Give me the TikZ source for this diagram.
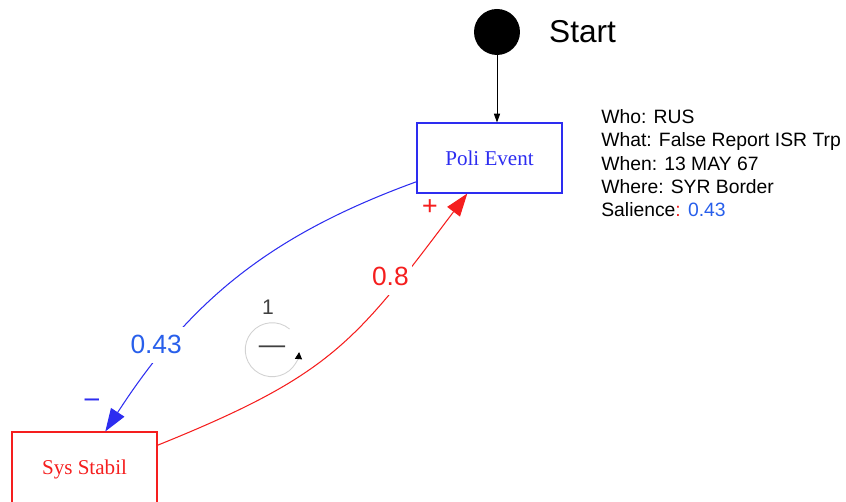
\documentclass[tikz,border=0pt]{standalone}
\usepackage{fontspec}
\setmainfont{Liberation Sans}
\newfontfamily\boxfont{Liberation Serif}
\usetikzlibrary{arrows.meta}
\definecolor{polblue}{RGB}{45,45,240}
\definecolor{stabred}{RGB}{245,30,30}
\definecolor{wtblue}{RGB}{40,95,235}
\begin{document}
\begin{tikzpicture}[x=0.02cm,y=0.02cm,
factor/.style={rectangle,draw,line width=0.6pt,minimum width=2.9cm,minimum height=1.4cm,font=\boxfont\fontsize{12}{14}\selectfont},
weight/.style={fill=white,inner xsep=2pt,inner ysep=5pt,font=\fontsize{15}{17}\selectfont},
sign/.style={inner sep=0,font=\boxfont\bfseries\fontsize{16}{16}\selectfont},
link/.style={line width=0.6pt,-{Triangle[length=13pt,width=9pt]}},
]
\useasboundingbox(0,0)rectangle(846,502);

%start
\node[circle,fill=black,minimum size=0.92cm,inner sep=0](start)at(497,470){};
\node[anchor=west,font=\fontsize{18}{20}\selectfont](startlbl)at(543,470){Start};

%factors
\node[factor,draw=polblue,text=polblue](poli)at(489.5,344){Poli Event};
\node[factor,draw=stabred,text=stabred,minimum height=1.48cm](sys)at(84.5,33){Sys Stabil};

%event info
\node[anchor=north west,align=left,inner sep=0,font=\fontsize{11}{13.3}\selectfont](info)at(601,393){Who: RUS\\What: False Report ISR Trp\\When: 13 MAY 67\\Where: SYR Border\\Salience{\color{stabred}:} {\color{wtblue}0.43}};

%links
\draw[-{Triangle[length=5pt,width=3.5pt]},line width=0.5pt](start)--(start|-poli.north);
\draw[link,polblue](poli.198)to[out=200,in=57]node[weight,text=wtblue,pos=0.75,xshift=-0.26cm](w1){0.43}(sys.61);
\draw[link,stabred](sys.18)to[out=22,in=233,looseness=1.2]node[weight,pos=0.78,xshift=-0.26cm](w2){0.8}(poli.238);

%signs
\node[sign,polblue](minus)at(92,99){\textendash};
\node[sign,stabred](plus)at(430,294){+};

%loop
\node[circle,minimum size=1.08cm,inner sep=0,text=darkgray,font=\fontsize{15}{15}\selectfont](loop)at(272,152){---};
\draw[gray!35,line width=0.5pt,-{Triangle[length=4pt,width=4pt,color=black]}](loop.50)arc[start angle=50,end angle=355,radius=0.54cm];
\node[font=\fontsize{12}{14}\selectfont,text=darkgray](loopnum)at(268,195){1};
\end{tikzpicture}
\end{document}
